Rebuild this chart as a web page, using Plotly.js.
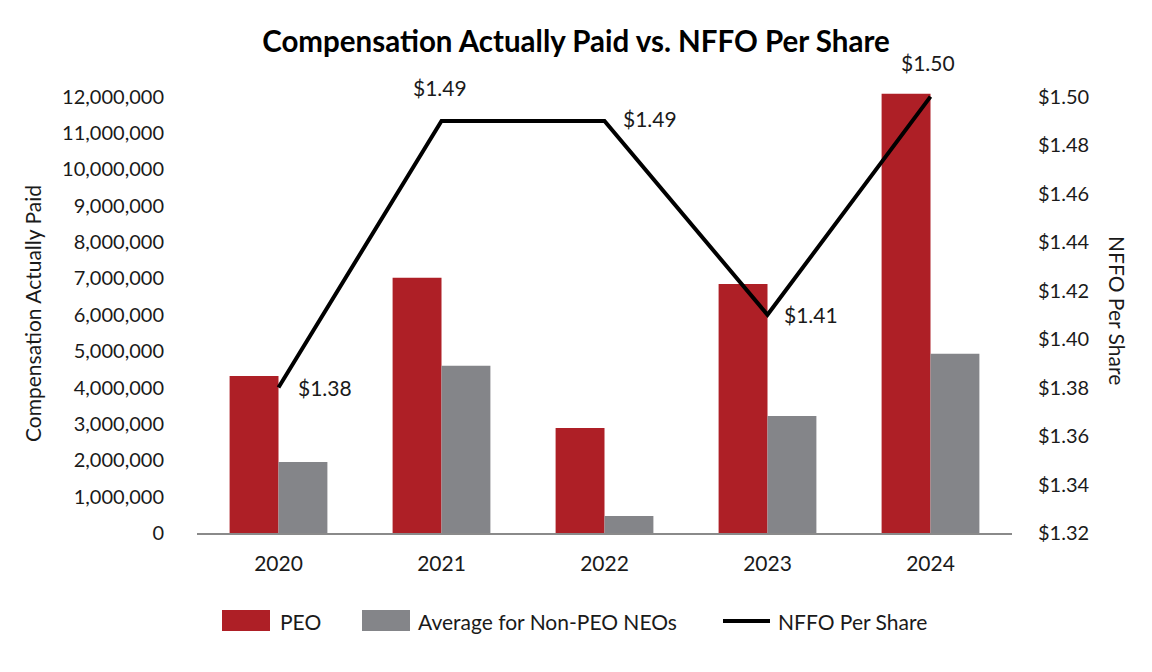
<!DOCTYPE html>
<html>
<head>
<meta charset="utf-8">
<script src="https://cdn.plot.ly/plotly-3.0.1.min.js"></script>
<style>html,body{margin:0;padding:0;background:#fff;}#chart{width:1152px;height:672px;}</style>
</head>
<body>
<div id="chart"></div>
<script>
// ---- data ----
const years = ["2020", "2021", "2022", "2023", "2024"];
const peoCap = [4320000, 7020000, 2890000, 6850000, 12080000];
const neoCap = [1950000, 4600000, 470000, 3220000, 4930000];
const nffoPerShare = [1.38, 1.49, 1.49, 1.41, 1.50];
const leftTicks = [0, 1000000, 2000000, 3000000, 4000000, 5000000, 6000000, 7000000, 8000000, 9000000, 10000000, 11000000, 12000000];
const rightTicks = [1.32, 1.34, 1.36, 1.38, 1.40, 1.42, 1.44, 1.46, 1.48, 1.50];
const seriesNames = ["PEO", "Average for Non-PEO NEOs", "NFFO Per Share"];

// ---- styles ----
const RED = "#AE1F26";
const GRAY = "#848589";
const FONT = "Lato, 'Open Sans', sans-serif";
const TXT = "#1a1a1a";

const fmtInt = v => v.toLocaleString("en-US");
const fmtUsd = v => "$" + v.toFixed(2);

const traces = [
  { type: "bar", name: seriesNames[0], x: years, y: peoCap, marker: { color: RED }, offsetgroup: "a", hoverinfo: "x+y" },
  { type: "bar", name: seriesNames[1], x: years, y: neoCap, marker: { color: GRAY }, offsetgroup: "b", hoverinfo: "x+y" },
  { type: "scatter", mode: "lines", name: seriesNames[2], x: years, y: nffoPerShare, yaxis: "y2",
    line: { color: "#000", width: 4 }, hoverinfo: "x+y" }
];

// label offsets (px) for line value labels
const lblShift = [[46, 0], [-2, 33], [45, 2], [43, 0], [-3, 34]];
const annotations = [];
years.forEach((yr, i) => annotations.push({
  xref: "x", yref: "y2", x: i, y: nffoPerShare[i],
  text: fmtUsd(nffoPerShare[i]), showarrow: false,
  xanchor: "center", yanchor: "middle",
  xshift: lblShift[i][0], yshift: lblShift[i][1],
  font: { family: FONT, size: 21, color: TXT }
}));

// axis titles
annotations.push({
  xref: "paper", yref: "paper", x: 0, y: 0.5, xshift: -165, yshift: -1,
  text: "Compensation Actually Paid", textangle: -90, showarrow: false,
  xanchor: "center", yanchor: "middle",
  font: { family: FONT, size: 21, color: TXT }
});
annotations.push({
  xref: "paper", yref: "paper", x: 1, y: 0.5, xshift: 106, yshift: 3,
  text: "NFFO Per Share", textangle: 90, showarrow: false,
  xanchor: "center", yanchor: "middle",
  font: { family: FONT, size: 21, color: TXT }
});

// custom legend texts
const legendTextX = [81, 219, 579];
seriesNames.forEach((n, i) => annotations.push({
  xref: "paper", yref: "paper", x: 0, y: 0, xshift: legendTextX[i], yshift: -88,
  text: n, showarrow: false, xanchor: "left", yanchor: "middle",
  font: { family: FONT, size: 21, color: TXT }
}));

const shapes = [
  { type: "rect", xref: "paper", yref: "paper", xsizemode: "pixel", ysizemode: "pixel",
    xanchor: 0, yanchor: 0, x0: 25, x1: 73, y0: -77, y1: -98, fillcolor: RED, line: { width: 0 } },
  { type: "rect", xref: "paper", yref: "paper", xsizemode: "pixel", ysizemode: "pixel",
    xanchor: 0, yanchor: 0, x0: 165, x1: 213, y0: -77, y1: -98, fillcolor: GRAY, line: { width: 0 } },
  { type: "line", xref: "paper", yref: "paper", xsizemode: "pixel", ysizemode: "pixel",
    xanchor: 0, yanchor: 0, x0: 526, x1: 573, y0: -88, y1: -88, line: { color: "#000", width: 4 } }
];

const layout = {
  width: 1152, height: 672,
  paper_bgcolor: "#fff", plot_bgcolor: "#fff",
  margin: { l: 197, r: 140, t: 93.4, b: 139, pad: 0 },
  font: { family: FONT, size: 20, color: TXT },
  title: { text: "Compensation Actually Paid vs. NFFO Per Share", x: 0.5, xanchor: "center",
    yref: "container", y: 1 - 42 / 672, yanchor: "middle",
    font: { family: FONT, size: 29.5, weight: 700, color: "#000" } },
  showlegend: false,
  barmode: "group", bargap: 0.4, bargroupgap: 0,
  xaxis: { type: "category", range: [-0.5, 4.5], showline: true, linecolor: "#8a8a8a", linewidth: 2,
    ticks: "", showgrid: false, zeroline: false, ticklabelstandoff: 11,
    tickfont: { family: FONT, size: 21, color: TXT } },
  yaxis: { range: [0, 12100000], tickvals: leftTicks, ticktext: leftTicks.map(fmtInt),
    showgrid: false, zeroline: false, showline: false, ticks: "", ticklabelstandoff: 32,
    tickfont: { family: FONT, size: 20, color: TXT } },
  yaxis2: { overlaying: "y", side: "right", range: [1.32, 1.32 + 0.18 * 12.1 / 12],
    tickvals: rightTicks, ticktext: rightTicks.map(fmtUsd),
    showgrid: false, zeroline: false, showline: false, ticks: "", ticklabelstandoff: 25,
    tickfont: { family: FONT, size: 20, color: TXT } },
  annotations: annotations,
  shapes: shapes
};

Plotly.newPlot("chart", traces, layout, { staticPlot: true, displayModeBar: false });
</script>
</body>
</html>
